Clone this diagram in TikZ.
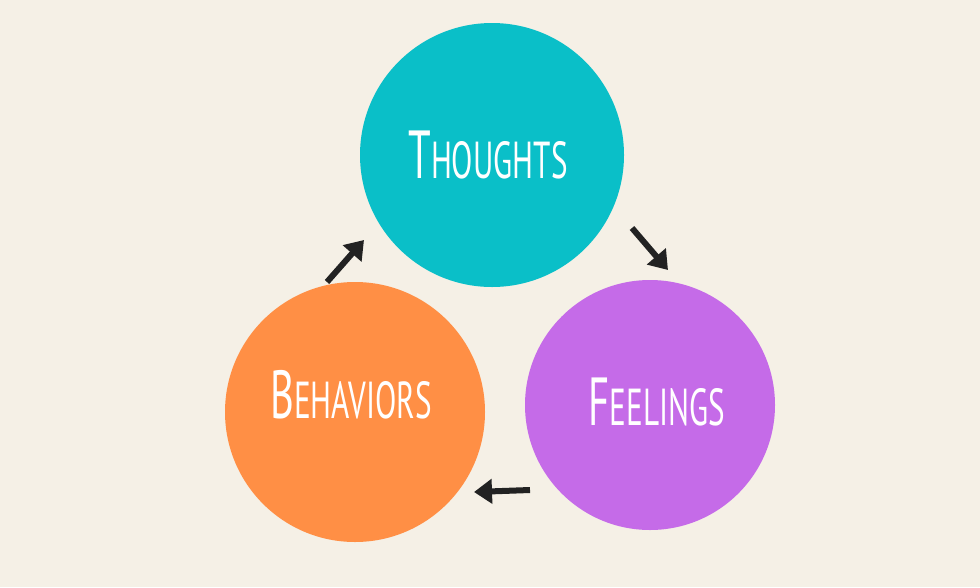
\documentclass[tikz,border=0pt]{standalone}
\usepackage{fontspec}
\setmainfont{PT Sans}
\usetikzlibrary{arrows.meta}
\definecolor{bg}{HTML}{F5F0E6}
\definecolor{teal}{HTML}{0ABFC8}
\definecolor{purp}{HTML}{C56BE8}
\definecolor{orng}{HTML}{FF8F45}
\definecolor{ink}{HTML}{222222}
\tikzset{blob/.style={circle,inner sep=0pt},
lbl/.style={text=white,xscale=0.6,font=\fontsize{52}{52}\selectfont},
arr/.style={draw=ink,line width=6pt,-{Triangle[length=18pt,width=24pt]}}}
\newcommand{\bigc}[1]{{\fontsize{68}{68}\selectfont #1}}
\begin{document}
\begin{tikzpicture}[x=1pt,y=-1pt]
\fill[bg] (0,0) rectangle (980,587);
\useasboundingbox (0,0) rectangle (980,587);
\node[blob,fill=teal,minimum size=264pt] (t) at (492,155) {};
\node[blob,fill=purp,minimum size=250pt] (f) at (650,405) {};
\node[blob,fill=orng,minimum size=260pt] (b) at (355,412) {};
\node[lbl] (tl) at (488,155) {\bigc{T}HOUGHTS};
\node[lbl] (fl) at (657,402) {\bigc{F}EELINGS};
\node[lbl] (bl) at (351,395) {\bigc{B}EHAVIORS};
\coordinate (a1s) at (327,282); \coordinate (a1e) at (364,240);
\coordinate (a2s) at (632,228); \coordinate (a2e) at (668,270);
\coordinate (a3s) at (530,490); \coordinate (a3e) at (474,492);
\draw[arr] (a1s) -- (a1e);
\draw[arr] (a2s) -- (a2e);
\draw[arr] (a3s) -- (a3e);
\end{tikzpicture}
\end{document}
